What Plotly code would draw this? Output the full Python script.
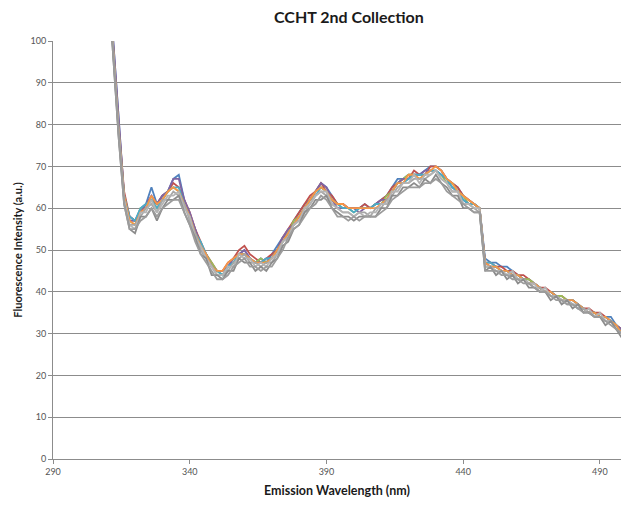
import plotly.graph_objects as go

# Emission wavelengths (nm), 2 nm steps
wavelength = list(range(310, 499, 2))

# Fluorescence intensity (a.u.) for each scan of the 2nd collection
scan_blue = [119, 100, 80, 63, 58, 57, 60, 61, 65, 61,
             63, 64, 67, 68, 62, 58, 55, 51, 49, 46,
             45, 44, 46, 48, 49, 50, 48, 47, 48, 47,
             49, 51, 53, 54, 57, 59, 61, 62, 64, 66,
             65, 63, 61, 61, 60, 60, 60, 61, 60, 61,
             62, 63, 65, 67, 67, 68, 68, 68, 69, 70,
             70, 69, 67, 66, 65, 63, 62, 61, 60, 48,
             47, 47, 46, 46, 45, 44, 43, 43, 42, 41,
             40, 40, 39, 38, 38, 37, 36, 36, 35, 35,
             34, 34, 34, 32, 31]
scan_red = [118, 99, 80, 64, 58, 57, 59, 61, 62, 61,
            63, 64, 66, 65, 62, 59, 55, 52, 49, 47,
            45, 45, 47, 48, 50, 51, 49, 48, 47, 48,
            49, 50, 53, 55, 57, 59, 61, 63, 64, 66,
            64, 63, 61, 61, 60, 60, 60, 61, 60, 61,
            62, 63, 65, 66, 67, 67, 69, 68, 68, 70,
            70, 69, 67, 66, 65, 63, 62, 61, 60, 47,
            47, 46, 46, 45, 45, 44, 44, 43, 42, 41,
            41, 40, 39, 39, 38, 38, 37, 36, 36, 35,
            35, 34, 33, 32, 31]
scan_green = [117, 98, 79, 63, 57, 56, 60, 60, 62, 60,
              62, 64, 65, 64, 61, 58, 54, 51, 49, 47,
              45, 44, 46, 47, 49, 49, 48, 47, 48, 47,
              48, 50, 52, 54, 57, 58, 60, 62, 64, 65,
              64, 62, 61, 60, 60, 59, 60, 60, 60, 61,
              61, 63, 64, 66, 67, 68, 68, 67, 68, 69,
              69, 68, 66, 66, 64, 63, 61, 61, 60, 46,
              46, 46, 45, 45, 44, 44, 43, 43, 42, 41,
              40, 40, 39, 39, 38, 38, 37, 36, 35, 35,
              34, 34, 33, 32, 30]
scan_purple = [119, 100, 80, 63, 57, 57, 59, 61, 63, 61,
               63, 64, 67, 67, 62, 59, 55, 51, 49, 46,
               45, 45, 46, 48, 49, 50, 48, 47, 47, 48,
               48, 50, 53, 55, 56, 58, 60, 62, 64, 66,
               65, 62, 60, 60, 60, 60, 59, 60, 60, 61,
               62, 62, 64, 66, 67, 67, 68, 68, 69, 69,
               69, 68, 67, 65, 64, 62, 61, 61, 60, 47,
               46, 46, 45, 45, 44, 44, 43, 42, 42, 41,
               40, 40, 39, 38, 38, 38, 37, 36, 35, 35,
               34, 34, 33, 32, 31]
scan_aqua = [118, 99, 79, 63, 58, 57, 60, 61, 62, 60,
             62, 64, 65, 65, 61, 58, 54, 52, 49, 46,
             45, 44, 46, 47, 49, 49, 48, 47, 47, 48,
             48, 50, 52, 54, 56, 58, 60, 62, 63, 65,
             64, 62, 61, 60, 60, 59, 60, 60, 60, 61,
             61, 62, 64, 66, 66, 67, 68, 68, 68, 69,
             69, 68, 67, 65, 64, 62, 61, 61, 60, 47,
             47, 46, 45, 45, 44, 44, 43, 42, 42, 41,
             40, 40, 39, 38, 38, 38, 37, 36, 35, 35,
             34, 34, 33, 32, 30]
scan_orange = [118, 99, 79, 63, 57, 56, 59, 60, 63, 61,
               62, 64, 65, 64, 61, 58, 54, 51, 49, 46,
               45, 45, 47, 48, 49, 49, 48, 47, 47, 47,
               48, 50, 52, 54, 56, 58, 60, 62, 64, 65,
               64, 62, 61, 61, 60, 60, 60, 60, 60, 60,
               61, 62, 64, 66, 66, 68, 68, 67, 68, 69,
               70, 69, 67, 66, 64, 63, 62, 61, 60, 47,
               46, 46, 45, 45, 44, 44, 43, 42, 42, 41,
               40, 40, 39, 38, 38, 38, 37, 36, 35, 35,
               34, 34, 33, 32, 30]
scan_gray1 = [117, 98, 78, 62, 56, 56, 58, 60, 61, 59,
              62, 62, 64, 63, 61, 57, 54, 50, 48, 46,
              44, 44, 45, 47, 48, 49, 47, 47, 46, 47,
              47, 49, 52, 53, 56, 57, 59, 61, 63, 64,
              63, 61, 60, 59, 59, 58, 59, 59, 58, 60,
              60, 62, 63, 65, 66, 66, 67, 67, 67, 68,
              69, 67, 66, 64, 64, 61, 61, 60, 59, 46,
              46, 45, 45, 44, 44, 43, 43, 42, 41, 41,
              40, 39, 39, 38, 37, 37, 36, 36, 35, 34,
              34, 33, 33, 31, 30]
scan_gray2 = [116, 97, 77, 61, 55, 54, 58, 58, 60, 57,
              60, 62, 62, 63, 59, 56, 53, 49, 48, 44,
              44, 43, 45, 45, 48, 47, 47, 45, 46, 45,
              47, 48, 51, 52, 55, 56, 59, 60, 62, 62,
              63, 60, 59, 58, 58, 57, 58, 58, 58, 58,
              60, 60, 63, 63, 65, 65, 66, 65, 67, 66,
              68, 66, 65, 63, 63, 60, 60, 59, 59, 45,
              46, 44, 45, 43, 44, 42, 43, 41, 41, 40,
              40, 38, 39, 37, 38, 36, 37, 35, 35, 34,
              34, 32, 33, 31, 29]
scan_gray3 = [117, 98, 78, 62, 56, 55, 59, 59, 62, 59,
              61, 63, 63, 64, 60, 58, 53, 51, 48, 46,
              44, 44, 46, 46, 49, 48, 48, 46, 47, 46,
              48, 49, 52, 53, 56, 57, 60, 61, 63, 64,
              64, 61, 60, 59, 59, 58, 59, 58, 59, 59,
              61, 61, 64, 64, 66, 66, 68, 66, 68, 68,
              69, 67, 66, 64, 64, 61, 61, 60, 60, 46,
              46, 45, 45, 44, 45, 43, 43, 42, 42, 40,
              41, 39, 39, 38, 38, 37, 37, 35, 36, 34,
              35, 33, 33, 31, 30]
scan_gray4 = [116, 97, 77, 61, 55, 55, 57, 58, 60, 58,
              60, 61, 62, 62, 59, 56, 52, 49, 47, 45,
              43, 43, 44, 46, 47, 48, 46, 46, 45, 46,
              46, 48, 50, 53, 55, 56, 58, 60, 61, 63,
              62, 60, 58, 58, 57, 58, 57, 58, 58, 58,
              59, 60, 62, 63, 64, 65, 65, 65, 66, 66,
              67, 66, 64, 63, 62, 61, 60, 59, 59, 45,
              45, 45, 44, 44, 43, 43, 42, 42, 41, 40,
              40, 39, 38, 38, 37, 37, 36, 35, 35, 34,
              34, 33, 32, 31, 30]

x_tick_values = [290, 340, 390, 440, 490]
y_tick_values = [0, 10, 20, 30, 40, 50, 60, 70, 80, 90, 100]

scans = [
    (scan_blue, "#4F81BD"),
    (scan_red, "#C0504D"),
    (scan_green, "#9BBB59"),
    (scan_purple, "#8064A2"),
    (scan_aqua, "#4BACC6"),
    (scan_orange, "#F79646"),
    (scan_gray1, "#A6A6A6"),
    (scan_gray3, "#B4B4B4"),
    (scan_gray2, "#8C8C8C"),
    (scan_gray4, "#9C9C9C"),
]

for values, _ in scans:
    if len(values) != len(wavelength):
        raise ValueError(f"length mismatch: {len(values)} vs {len(wavelength)}")

fig = go.Figure()
for values, color in scans:
    fig.add_trace(go.Scatter(
        x=wavelength, y=values, mode="lines",
        line=dict(color=color, width=1.8),
        showlegend=False, hoverinfo="skip",
    ))

font_family = "Lato, 'Open Sans', sans-serif"

fig.update_layout(
    width=621, height=507,
    margin=dict(l=53, r=0, t=41, b=48),
    paper_bgcolor="white", plot_bgcolor="white",
    font=dict(family=font_family, color="#404040"),
    title=dict(
        text="<b>CCHT 2nd Collection</b>",
        x=0.521, xref="paper", xanchor="center",
        y=0.966, yref="container", yanchor="middle",
        font=dict(size=16, color="#1a1a1a", family=font_family),
    ),
    xaxis=dict(
        range=[290, 497.7],
        tickvals=x_tick_values,
        ticktext=[str(v) for v in x_tick_values],
        showgrid=False, zeroline=False,
        showline=True, linecolor="#8c8c8c", linewidth=1,
        ticks="outside", ticklen=4, tickcolor="#8c8c8c",
        tickfont=dict(size=9, color="#555555"),
        title=dict(text="<b>Emission Wavelength (nm)</b>",
                   font=dict(size=12.5, color="#1a1a1a"), standoff=10),
    ),
    yaxis=dict(
        range=[0, 100],
        tickvals=y_tick_values,
        showgrid=True, gridcolor="#8c8c8c", gridwidth=1,
        zeroline=False,
        showline=True, linecolor="#8c8c8c", linewidth=1,
        ticks="outside", ticklen=4, tickcolor="#8c8c8c",
        tickfont=dict(size=9, color="#555555"),
        title=dict(text="<b>Fluorescence Intensity (a.u.)</b>",
                   font=dict(size=11, color="#1a1a1a"), standoff=5),
    ),
)

fig.write_html("out.html")
